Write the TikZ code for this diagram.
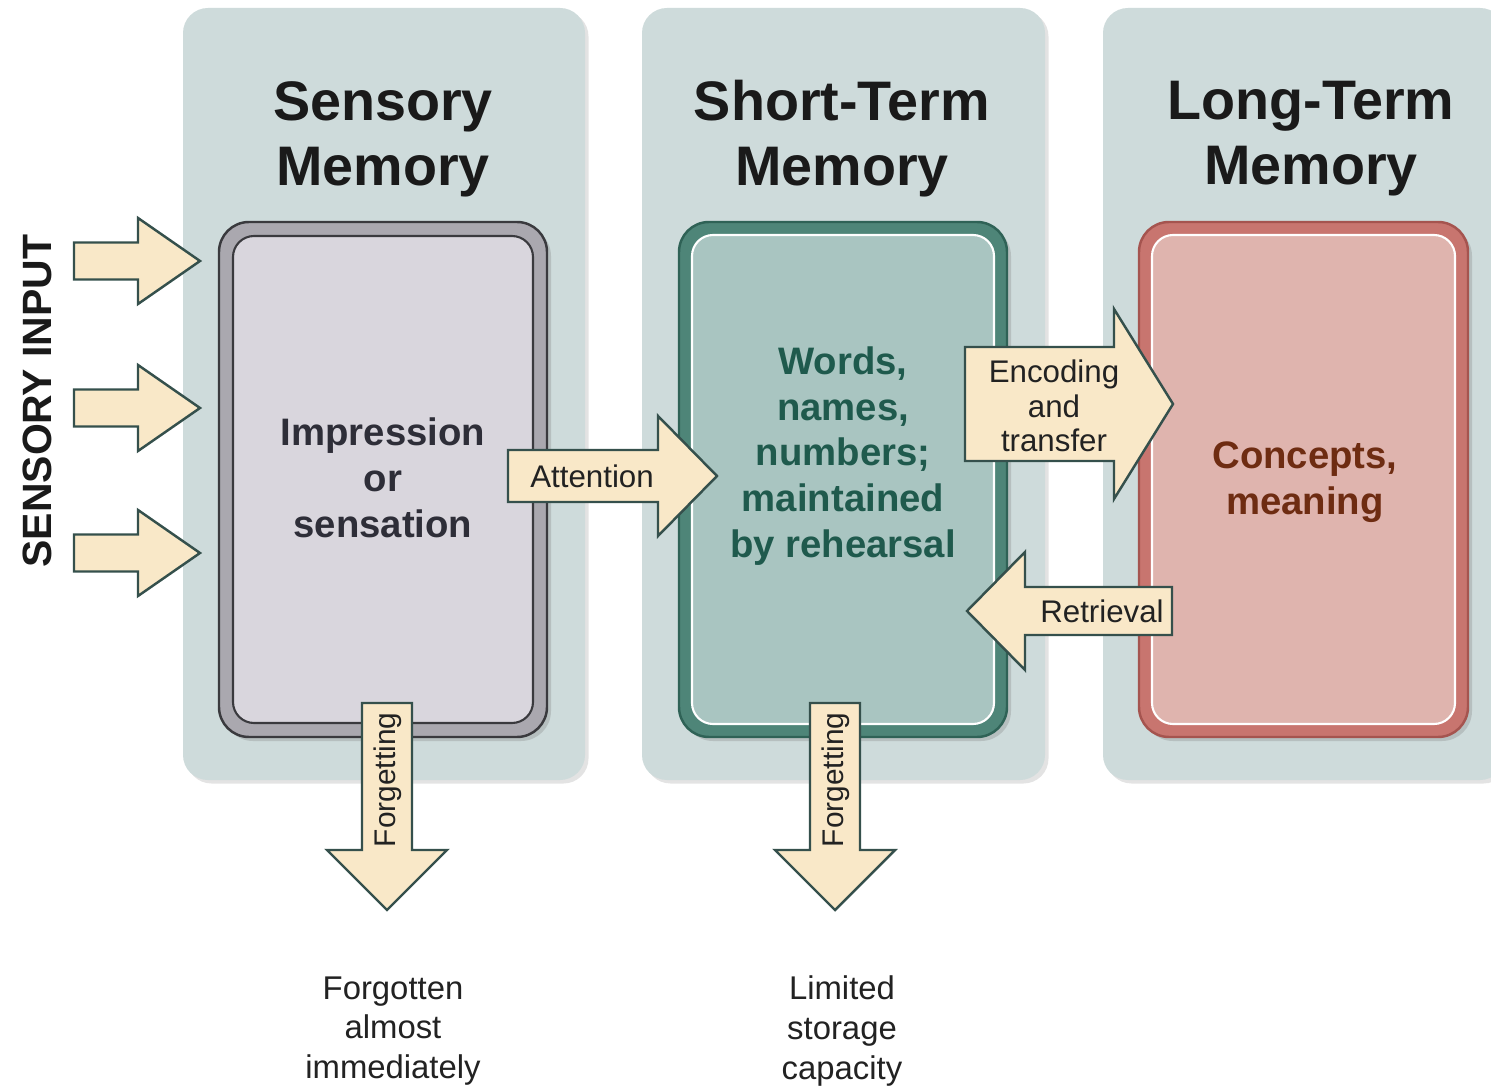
\documentclass[tikz,border=0pt]{standalone}
\usepackage{fontspec}
\setmainfont{Liberation Sans}
\usetikzlibrary{shadows}
\definecolor{panel}{HTML}{CEDBDB}
\definecolor{boneband}{HTML}{AAA8AF}
\definecolor{boneline}{HTML}{3A3A3E}
\definecolor{bonefill}{HTML}{D9D6DD}
\definecolor{btwoband}{HTML}{4E8578}
\definecolor{btwoline}{HTML}{2F6256}
\definecolor{btwofill}{HTML}{A9C5C1}
\definecolor{bthreeband}{HTML}{C8756F}
\definecolor{bthreeline}{HTML}{A5544F}
\definecolor{bthreefill}{HTML}{DFB4AE}
\definecolor{cream}{HTML}{F9E8C8}
\definecolor{arrowline}{HTML}{35504C}
\definecolor{titlecol}{HTML}{1A1A1A}
\definecolor{bonetext}{HTML}{2E2E38}
\definecolor{btwotext}{HTML}{1F5A4D}
\definecolor{bthreetext}{HTML}{6E2C12}
\definecolor{lbltext}{HTML}{222222}
\newcommand\fatarrowR[6]{% tail x, head base x, tip x, centre y, shaft half, head half
  \filldraw[fatarrow] (#1,#4-#5) -- (#2,#4-#5) -- (#2,#4-#6) -- (#3,#4) -- (#2,#4+#6) -- (#2,#4+#5) -- (#1,#4+#5) -- cycle;}
\newcommand\fatarrowD[6]{% centre x, tail y, head base y, tip y, shaft half, head half
  \filldraw[fatarrow] (#1-#5,#2) -- (#1+#5,#2) -- (#1+#5,#3) -- (#1+#6,#3) -- (#1,#4) -- (#1-#6,#3) -- (#1-#5,#3) -- cycle;}
\begin{document}
\begin{tikzpicture}[x=0.02cm,y=-0.02cm,
  panelbox/.style={fill=panel, rounded corners=0.5cm,
    drop shadow={shadow xshift=0.07cm, shadow yshift=-0.07cm, opacity=0.22}},
  outerbox/.style={rounded corners=0.6cm, line width=1.4pt,
    drop shadow={shadow xshift=0.08cm, shadow yshift=-0.08cm, opacity=0.3}},
  innerbox/.style={rounded corners=0.42cm, line width=1.2pt},
  fatarrow/.style={fill=cream, draw=arrowline, line width=1.4pt, line join=miter},
  title/.style={font=\fontsize{31.7}{36.9}\selectfont\bfseries, align=center, inner sep=0pt, text=titlecol},
  boxtext/.style={font=\fontsize{21.8}{26.1}\selectfont\bfseries, align=center, inner sep=0pt},
  lbl/.style={font=\fontsize{17.8}{19.8}\selectfont, align=center, inner sep=0pt, text=lbltext},
  forget/.style={font=\fontsize{17}{20}\selectfont, inner sep=0pt, text=lbltext, rotate=90},
  sens/.style={font=\fontsize{23.3}{27}\selectfont\bfseries, inner sep=0pt, text=titlecol, rotate=90},
  bottomtext/.style={font=\fontsize{18.7}{22.7}\selectfont, align=center, inner sep=0pt, text=lbltext}]
\path[use as bounding box, fill=white] (0,0) rectangle (1491,1087);
% background panels
\path[panelbox] (183,8) rectangle (585,780);
\path[panelbox] (642,8) rectangle (1045,780);
\path[panelbox] (1103,8) rectangle (1505,780);
% titles
\node[title] (t1) at (383,139) {Sensory\\Memory};
\node[title] (t2) at (842,139) {Short-Term\\Memory};
\node[title] (t3) at (1311,139) {Long-Term\\Memory};
% memory boxes
\filldraw[outerbox, fill=boneband, draw=boneline] (219,222) rectangle (547,737);
\filldraw[innerbox, fill=bonefill, draw=boneline] (233,236) rectangle (533,723);
\filldraw[outerbox, fill=btwoband, draw=btwoline] (679,222) rectangle (1007,737);
\filldraw[innerbox, fill=btwofill, draw=white] (692,235) rectangle (994,724);
\filldraw[outerbox, fill=bthreeband, draw=bthreeline] (1139,222) rectangle (1468,737);
\filldraw[innerbox, fill=bthreefill, draw=white] (1152,235) rectangle (1455,724);
\node[boxtext, text=bonetext] (imp) at (383,478) {Impression\\or\\sensation};
\node[boxtext, text=btwotext] (words) at (843,456) {Words,\\names,\\numbers;\\maintained\\by rehearsal};
\node[boxtext, text=bthreetext] (conc) at (1305,482) {Concepts,\\meaning};
% sensory input arrows
\fatarrowR{74}{138}{200}{261}{18.5}{43}
\fatarrowR{74}{138}{200}{408}{18.5}{43}
\fatarrowR{74}{138}{200}{553}{18.5}{43}
\node[sens] (si) at (37,401) {SENSORY INPUT};
% attention
\fatarrowR{508}{658}{717}{476}{26}{60}
\node[lbl] (att) at (592,476) {Attention};
% encoding and transfer
\fatarrowR{965}{1114}{1173}{404}{57}{95}
\node[lbl] (enc) at (1054,406) {Encoding\\and\\transfer};
% retrieval
\fatarrowR{1172}{1025}{967}{611}{24}{59}
\node[lbl] (ret) at (1102,611) {Retrieval};
% forgetting
\fatarrowD{387}{703}{850}{910}{25}{60}
\node[forget] (f1) at (388,780) {Forgetting};
\fatarrowD{835}{703}{850}{910}{25}{60}
\node[forget] (f2) at (836,780) {Forgetting};
% bottom captions
\node[bottomtext] (cap1) at (393,1031) {Forgotten\\almost\\immediately};
\node[bottomtext] (cap2) at (842,1031) {Limited\\storage\\capacity};
\end{tikzpicture}
\end{document}
